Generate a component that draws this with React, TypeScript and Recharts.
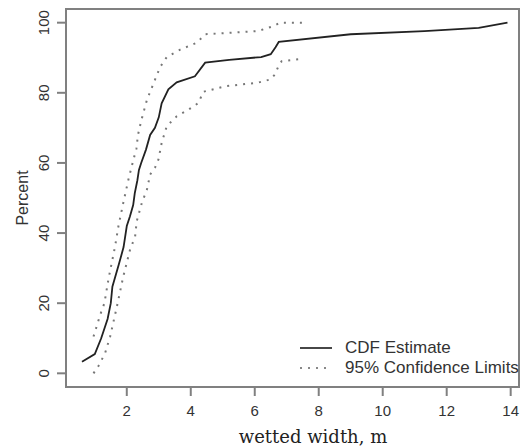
import React from 'react';
import { LineChart, Line, XAxis, YAxis, ReferenceArea, Label } from 'recharts';

// CDF of wetted width (m) with 95% confidence limits
const cdfX = [0.6, 1.0, 1.2, 1.4, 1.5, 1.55, 1.75, 1.9, 2.0, 2.1, 2.2, 2.25, 2.33, 2.38, 2.45, 2.6, 2.73, 2.88, 3.0, 3.09, 3.3, 3.56, 4.13, 4.45, 5.2, 6.2, 6.5, 6.65, 6.75, 9.0, 11.3, 13.0, 13.9];
const cdfY = [3.3, 5.5, 10, 15.5, 20, 24.7, 31, 36, 42, 44.8, 48, 51.4, 55, 58, 60, 63.8, 68, 70, 73, 77, 81, 83, 84.7, 88.6, 89.4, 90.2, 91, 93, 94.5, 96.7, 97.6, 98.5, 100];

const upperX = [0.96, 1.17, 1.3, 1.43, 1.63, 1.74, 1.89, 2.05, 2.21, 2.3, 2.35, 2.45, 2.63, 2.85, 3.04, 3.25, 3.67, 4.19, 4.45, 6.1, 6.58, 6.79, 7.5];
const upperY = [10.5, 16.7, 20, 27, 36, 42, 48.6, 55.2, 61, 64, 68, 72, 78, 83, 87.3, 90.2, 92.3, 94.3, 96.7, 97.6, 99, 100, 100];

const lowerX = [0.96, 1.11, 1.32, 1.48, 1.69, 1.89, 2.1, 2.26, 2.31, 2.47, 2.63, 2.73, 2.88, 2.99, 3.09, 3.25, 3.56, 3.93, 4.24, 4.39, 5.1, 6.1, 6.48, 6.63, 6.74, 6.84, 7.5];
const lowerY = [0, 2, 5.7, 10.5, 19, 27.6, 35.2, 39, 43.3, 48.6, 52.4, 56.7, 58.6, 61, 65.7, 70.5, 73.3, 75.2, 77.1, 80.3, 81.9, 82.9, 83.8, 85.2, 87.6, 89, 89.7];

const xTicks = [2, 4, 6, 8, 10, 12, 14];
const yTicks = [0, 20, 40, 60, 80, 100];
const xDomain = [0.1, 14.26];
const yDomain = [-3.9, 103.9];

const toPoints = (xs: number[], ys: number[]) => xs.map((x, i) => ({ x, y: ys[i] }));

const cdfData = toPoints(cdfX, cdfY);
const upperData = toPoints(upperX, upperY);
const lowerData = toPoints(lowerX, lowerY);

const SANS = '"Liberation Sans", Arial, sans-serif';
const FRAME = '#808080';
const TEXT = '#333';

const YTick = ({ x, y, payload }: any) => (
  <text
    transform={`translate(${x - 6},${y}) rotate(-90)`}
    textAnchor="middle"
    fontSize={15}
    fontFamily={SANS}
    fill={TEXT}
  >
    {payload.value}
  </text>
);

function ChartLegend() {
  return (
    <div style={{ position: 'absolute', left: 296, top: 338, fontFamily: SANS, fontSize: 17, color: TEXT, whiteSpace: 'nowrap' }}>
      <div style={{ display: 'flex', alignItems: 'center', height: 20 }}>
        <svg width={36} height={20}>
          <line x1={4} y1={10} x2={36} y2={10} stroke="#333" strokeWidth={1.8} />
        </svg>
        <span style={{ marginLeft: 13 }}>CDF Estimate</span>
      </div>
      <div style={{ display: 'flex', alignItems: 'center', height: 20 }}>
        <svg width={36} height={20}>
          <line x1={4} y1={10} x2={36} y2={10} stroke="#888" strokeWidth={2} strokeDasharray="2 6" />
        </svg>
        <span style={{ marginLeft: 13 }}>95% Confidence Limits</span>
      </div>
    </div>
  );
}

export default function App() {
  return (
    <div style={{ position: 'absolute', left: 0, top: 0, width: 523, height: 448, background: '#fff' }}>
      <LineChart width={523} height={448} margin={{ top: 9, right: 4, left: 0, bottom: 0 }}>
        <XAxis
          dataKey="x"
          type="number"
          domain={xDomain}
          ticks={xTicks}
          allowDataOverflow
          height={61}
          stroke={FRAME}
          strokeWidth={2}
          tickSize={9}
          tickMargin={9}
          tick={{ fontSize: 15, fontFamily: SANS, fill: TEXT }}
        >
          <Label
            content={() => (
              <text x={313} y={443} textAnchor="middle" fontSize={18} fontFamily='"DejaVu Serif", serif' fill="#222">
                wetted width, m
              </text>
            )}
          />
        </XAxis>
        <YAxis
          dataKey="y"
          type="number"
          domain={yDomain}
          ticks={yTicks}
          allowDataOverflow
          width={66}
          stroke={FRAME}
          strokeWidth={2}
          tickSize={9}
          tick={<YTick />}
        >
          <Label
            content={() => (
              <text transform="translate(28,198) rotate(-90)" textAnchor="middle" fontSize={16} fontFamily={SANS} fill={TEXT}>
                Percent
              </text>
            )}
          />
        </YAxis>
        {/* plot frame */}
        <ReferenceArea
          x1={xDomain[0]}
          x2={xDomain[1]}
          y1={yDomain[0]}
          y2={yDomain[1]}
          fill="none"
          stroke={FRAME}
          strokeWidth={2}
          ifOverflow="visible"
        />
        <Line data={upperData} dataKey="y" type="linear" stroke="#777" strokeWidth={2} strokeDasharray="2 6" dot={false} isAnimationActive={false} />
        <Line data={lowerData} dataKey="y" type="linear" stroke="#777" strokeWidth={2} strokeDasharray="2 6" dot={false} isAnimationActive={false} />
        <Line data={cdfData} dataKey="y" type="linear" stroke="#222" strokeWidth={1.8} dot={false} isAnimationActive={false} />
      </LineChart>
      <ChartLegend />
    </div>
  );
}
